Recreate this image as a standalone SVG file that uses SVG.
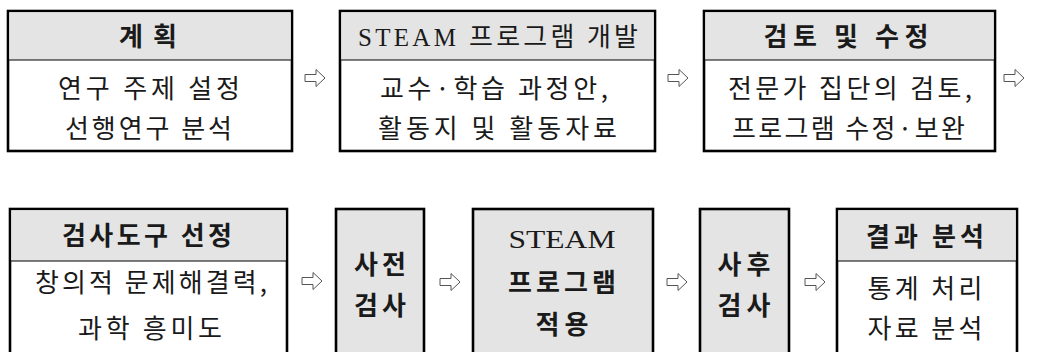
<svg xmlns="http://www.w3.org/2000/svg" width="1039" height="352" viewBox="0 0 1039 352">
<defs>
<style>
.box{fill:#ffffff;stroke:#000;stroke-width:2.6}
.hd{fill:#e4e4e4}
.gbox{fill:#e4e4e4;stroke:#000;stroke-width:2.6}
.sep{stroke:#000;stroke-width:1}
.t{font-family:"Liberation Serif","Noto Sans CJK KR",serif;font-size:26px;fill:#1a1a1a;text-anchor:middle}
.b{font-weight:bold}
.k{font-family:"Noto Sans CJK KR","Liberation Serif",sans-serif}
.k2{font-family:"Noto Sans CJK KR",sans-serif;font-size:26px;fill:#1a1a1a;text-anchor:middle}
.arr{fill:#fff;stroke:#555;stroke-width:1}
</style>
<path id="a" class="arr" d="M-10,-3.5 H1 V-8.5 L10,0 L1,8.5 V3.5 H-10 Z"/>
</defs>
<rect width="1039" height="352" fill="#fff"/>

<g id="n1">
<rect class="box" x="8" y="11" width="284" height="140"/>
<rect class="hd" x="9.3" y="12.3" width="281.4" height="47.7"/>
<line class="sep" x1="8" y1="60" x2="292" y2="60"/>
<text class="k2 b" x="148" y="46" textLength="58" lengthAdjust="spacing">계 획</text>
<text class="k2" x="149" y="98" textLength="182" lengthAdjust="spacing">연구 주제 설정</text>
<text class="k2" x="148.5" y="138" textLength="167" lengthAdjust="spacing">선행연구 분석</text>
</g>

<g id="n2">
<rect class="box" x="340" y="11" width="315" height="140"/>
<rect class="hd" x="341.3" y="12.3" width="312.4" height="47.7"/>
<line class="sep" x1="340" y1="60" x2="655" y2="60"/>
<text class="t" x="498" y="46" textLength="280" lengthAdjust="spacing"><tspan font-size="25">STEAM</tspan> <tspan class="k">프로그램 개발</tspan></text>
<text class="k2" x="494" y="98" textLength="228" lengthAdjust="spacing">교수·학습 과정안,</text>
<text class="k2" x="497.5" y="138" textLength="239" lengthAdjust="spacing">활동지 및 활동자료</text>
</g>

<g id="n3">
<rect class="box" x="704" y="11" width="291" height="140"/>
<rect class="hd" x="705.3" y="12.3" width="288.4" height="47.7"/>
<line class="sep" x1="704" y1="60" x2="995" y2="60"/>
<text class="k2 b" x="846" y="46" textLength="165" lengthAdjust="spacing">검토 및 수정</text>
<text class="k2" x="850" y="98" textLength="244" lengthAdjust="spacing">전문가 집단의 검토,</text>
<text class="k2" x="848.5" y="138" textLength="233" lengthAdjust="spacing">프로그램 수정·보완</text>
</g>

<g id="n4">
<rect class="box" x="10" y="209" width="277" height="160"/>
<rect class="hd" x="11.3" y="210.3" width="274.4" height="50.7"/>
<line class="sep" x1="10" y1="261" x2="287" y2="261"/>
<text class="k2 b" x="147" y="245" textLength="170" lengthAdjust="spacing">검사도구 선정</text>
<text class="k2" x="151" y="292" textLength="232" lengthAdjust="spacing">창의적 문제해결력,</text>
<text class="k2" x="150" y="338" textLength="144" lengthAdjust="spacing">과학 흥미도</text>
</g>

<g id="n5">
<rect class="gbox" x="336" y="209" width="88" height="160"/>
<text class="k2 b" x="380" y="274" textLength="52" lengthAdjust="spacing">사전</text>
<text class="k2 b" x="380" y="315" textLength="52" lengthAdjust="spacing">검사</text>
</g>

<g id="n6">
<rect class="gbox" x="473" y="209" width="180" height="160"/>
<text class="t" x="562" y="248" font-size="27" textLength="107" lengthAdjust="spacingAndGlyphs">STEAM</text>
<text class="k2 b" x="562" y="292" textLength="108" lengthAdjust="spacing">프로그램</text>
<text class="k2 b" x="562" y="334" textLength="53" lengthAdjust="spacing">적용</text>
</g>

<g id="n7">
<rect class="gbox" x="700" y="209" width="89" height="160"/>
<text class="k2 b" x="744" y="274" textLength="53" lengthAdjust="spacing">사후</text>
<text class="k2 b" x="744" y="315" textLength="53" lengthAdjust="spacing">검사</text>
</g>

<g id="n8">
<rect class="box" x="837" y="209" width="180" height="160"/>
<rect class="hd" x="838.3" y="210.3" width="177.4" height="50.7"/>
<line class="sep" x1="837" y1="261" x2="1017" y2="261"/>
<text class="k2 b" x="925" y="246" textLength="118" lengthAdjust="spacing">결과 분석</text>
<text class="k2" x="925" y="298" textLength="115" lengthAdjust="spacing">통계 처리</text>
<text class="k2" x="925" y="338" textLength="115" lengthAdjust="spacing">자료 분석</text>
</g>

<g id="connectors">
<use href="#a" x="315" y="78"/>
<use href="#a" x="678" y="78"/>
<use href="#a" x="1014" y="78"/>
<use href="#a" x="312" y="281"/>
<use href="#a" x="450" y="282"/>
<use href="#a" x="677" y="282"/>
<use href="#a" x="815" y="282"/>
</g>
</svg>
